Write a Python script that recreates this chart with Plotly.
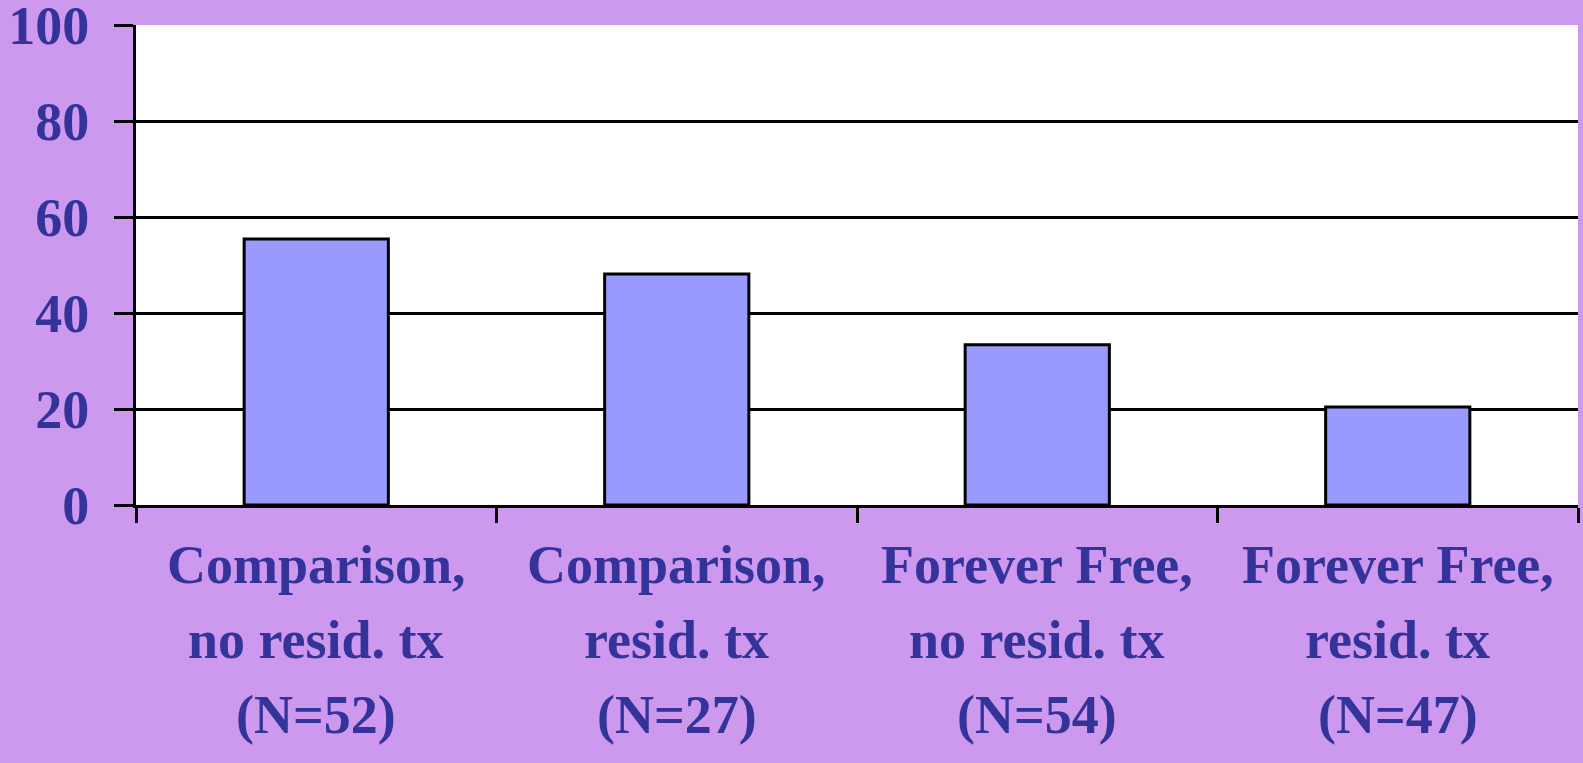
import plotly.graph_objects as go

line1 = ["Comparison,", "Comparison,", "Forever Free,", "Forever Free,"]
line2 = ["no resid. tx", "resid. tx", "no resid. tx", "resid. tx"]
line3 = ["(N=52)", "(N=27)", "(N=54)", "(N=47)"]
categories = [f"{a} {b} {c}" for a, b, c in zip(line1, line2, line3)]
values = [55.4, 48.1, 33.4, 20.4]
y_ticks = [0, 20, 40, 60, 80, 100]
grid_black = [20, 40, 60, 80]
grid_gray = [100]

BG = "#CC99EE"
TXT = "#333399"
FONT = "Liberation Serif"
FS = 54

fig = go.Figure()
fig.add_trace(go.Bar(
    x=categories, y=values, width=0.4,
    marker=dict(color="#9999FF", line=dict(color="black", width=3)),
    showlegend=False, hoverinfo="skip",
))
fig.add_trace(go.Scatter(x=[], y=[], yaxis="y2", showlegend=False, hoverinfo="skip"))
fig.add_trace(go.Scatter(x=[], y=[], yaxis="y3", showlegend=False, hoverinfo="skip"))

for lines, shift in ((line1, -60), (line2, -135), (line3, -210)):
    for cat, txt in zip(categories, lines):
        fig.add_annotation(
            x=cat, xref="x", y=0, yref="paper", text=txt, showarrow=False,
            xanchor="center", yanchor="middle", yshift=shift,
            font=dict(family=FONT, color=TXT, size=FS, weight="bold"),
        )

fig.update_layout(
    width=1583, height=763,
    margin=dict(l=136, r=5, t=25, b=258),
    paper_bgcolor=BG, plot_bgcolor="white",
    font=dict(family=FONT, color=TXT, size=FS, weight="bold"),
    xaxis=dict(
        type="category", tickson="boundaries",
        ticks="outside", ticklen=15, tickwidth=3, tickcolor="black",
        showline=True, linecolor="black", linewidth=3,
        showgrid=False, zeroline=False, showticklabels=False,
        automargin=False,
    ),
    yaxis=dict(
        range=[0, 100], tickvals=y_ticks,
        ticks="outside", ticklen=19, tickwidth=3, tickcolor="black",
        showline=True, linecolor="black", linewidth=3,
        showgrid=False, zeroline=False,
        tickfont=dict(family=FONT, color=TXT, size=FS, weight="bold"),
        ticklabelstandoff=14, ticklabeloverflow="allow", automargin=False,
    ),
    yaxis2=dict(
        overlaying="y", range=[0, 100], tickvals=grid_black,
        showgrid=True, gridcolor="black", gridwidth=3,
        showticklabels=False, ticks="", showline=False, zeroline=False,
    ),
    yaxis3=dict(
        overlaying="y", range=[0, 100], tickvals=grid_gray,
        showgrid=True, gridcolor="#D8D8D8", gridwidth=1,
        showticklabels=False, ticks="", showline=False, zeroline=False,
    ),
    bargap=0.6,
)

fig.write_html(
    "out.html",
    config={"displayModeBar": False},
    post_script="document.body.style.margin='0';document.body.style.overflow='hidden';",
)
